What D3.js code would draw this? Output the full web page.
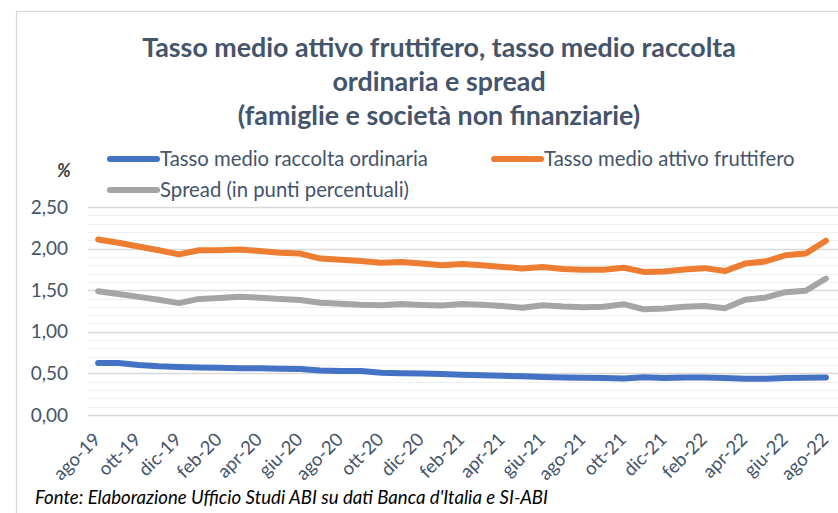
<!DOCTYPE html>
<html><head><meta charset="utf-8">
<script src="https://cdn.jsdelivr.net/npm/d3@7"></script>
<style>body{margin:0;background:#fff} svg{display:block}</style>
</head><body>
<svg id="chart" width="838" height="513"></svg>
<script>
// ---- data ----
const months = ["ago-19","set-19","ott-19","nov-19","dic-19","gen-20","feb-20","mar-20","apr-20","mag-20","giu-20","lug-20",
  "ago-20","set-20","ott-20","nov-20","dic-20","gen-21","feb-21","mar-21","apr-21","mag-21","giu-21","lug-21",
  "ago-21","set-21","ott-21","nov-21","dic-21","gen-22","feb-22","mar-22","apr-22","mag-22","giu-22","lug-22","ago-22"];
const tickLabels = ["ago-19","ott-19","dic-19","feb-20","apr-20","giu-20","ago-20","ott-20","dic-20","feb-21","apr-21",
  "giu-21","ago-21","ott-21","dic-21","feb-22","apr-22","giu-22","ago-22"];
const raccolta = [0.625,0.625,0.600,0.585,0.578,0.572,0.567,0.562,0.562,0.556,0.552,0.536,0.530,0.528,0.508,0.503,0.500,
  0.492,0.484,0.478,0.472,0.465,0.458,0.452,0.448,0.445,0.440,0.455,0.445,0.452,0.452,0.444,0.437,0.437,0.444,0.448,0.452];
const attivo = [2.11,2.07,2.025,1.98,1.93,1.98,1.98,1.99,1.97,1.95,1.94,1.88,1.865,1.85,1.83,1.84,1.82,1.80,1.815,1.80,
  1.78,1.76,1.78,1.755,1.745,1.745,1.77,1.72,1.725,1.75,1.765,1.73,1.82,1.845,1.92,1.94,2.095];
const spread = [1.488,1.455,1.42,1.385,1.345,1.395,1.405,1.42,1.41,1.395,1.383,1.35,1.336,1.324,1.32,1.333,1.323,1.315,
  1.333,1.325,1.31,1.288,1.32,1.304,1.296,1.30,1.332,1.27,1.28,1.30,1.31,1.283,1.386,1.41,1.476,1.494,1.64];
const yTicks = [0, 0.5, 1, 1.5, 2, 2.5];
const seriesNames = ["Tasso medio raccolta ordinaria", "Tasso medio attivo fruttifero", "Spread (in punti percentuali)"];
const titleLines = ["Tasso medio attivo fruttifero, tasso medio raccolta", "ordinaria e spread", "(famiglie e società non finanziarie)"];
const sourceText = "Fonte: Elaborazione Ufficio Studi ABI su dati Banca d'Italia e SI-ABI";

// ---- drawing ----
const svg = d3.select("#chart");
const C = {blue:"#4472c4", orange:"#ed7d31", gray:"#a5a5a5", text:"#44546a"};
const FONT = "Lato, 'Open Sans', sans-serif";
const it = d3.formatLocale({decimal:",", thousands:".", grouping:[3], currency:["€",""]});
const fmt = it.format(".2f");

// outer border
svg.append("rect").attr("x",16.5).attr("y",11.5).attr("width",900).attr("height",600)
  .attr("fill","none").attr("stroke","#d9d9d9").attr("stroke-width",1.2);

const x = d3.scalePoint().domain(months).range([88, 836]).padding(0.5);
const y = d3.scaleLinear().domain([0, 2.5]).range([415, 207]);

// minor grid
svg.append("g").selectAll("line").data(y.ticks(25)).join("line")
  .attr("x1",88).attr("x2",838).attr("y1",d=>Math.round(y(d))+0.5).attr("y2",d=>Math.round(y(d))+0.5)
  .attr("stroke","#efefef").attr("stroke-width",1.2);
// major grid
svg.append("g").selectAll("line").data(yTicks).join("line")
  .attr("x1",88).attr("x2",838).attr("y1",d=>Math.round(y(d))+0.5).attr("y2",d=>Math.round(y(d))+0.5)
  .attr("stroke","#d9d9d9").attr("stroke-width",1.3);

// y axis labels
svg.append("g").selectAll("text").data(yTicks).join("text")
  .attr("x",68).attr("y",d=>y(d)).attr("dy","0.35em").attr("text-anchor","end")
  .attr("font-family",FONT).attr("font-size",19).attr("fill",C.text).text(d=>fmt(d));

// x axis labels
svg.append("g").selectAll("text").data(tickLabels).join("text")
  .attr("transform",d=>`translate(${x(d)-1},436) rotate(-45)`)
  .attr("dy","0.35em").attr("text-anchor","end")
  .attr("font-family",FONT).attr("font-size",18.5).attr("fill",C.text).text(d=>d);

// lines
const line = d3.line().x((d,i)=>x(months[i])).y(d=>y(d));
[[raccolta,C.blue],[attivo,C.orange],[spread,C.gray]].forEach(([data,col])=>{
  svg.append("path").datum(data).attr("d",line).attr("fill","none").attr("stroke",col)
    .attr("stroke-width",6).attr("stroke-linecap","round").attr("stroke-linejoin","round");
});

// title
svg.append("g").selectAll("text").data(titleLines).join("text")
  .attr("x",439).attr("y",(d,i)=>57+i*34).attr("text-anchor","middle")
  .attr("font-family",FONT).attr("font-weight","bold").attr("font-size",26.8).attr("fill",C.text).text(d=>d);

// % label
svg.append("text").attr("x",57).attr("y",177).attr("font-family",FONT).attr("font-style","italic").attr("font-weight","bold")
  .attr("font-size",18).attr("fill","#404040").text("%");

// legend
const leg = [{n:seriesNames[0],c:C.blue,x:107,y:159},{n:seriesNames[1],c:C.orange,x:491,y:159},{n:seriesNames[2],c:C.gray,x:107,y:190}];
const lg = svg.append("g").selectAll("g").data(leg).join("g").attr("transform",d=>`translate(${d.x},${d.y})`);
lg.append("line").attr("x1",3).attr("x2",50).attr("stroke",d=>d.c).attr("stroke-width",6).attr("stroke-linecap","round");
lg.append("text").attr("x",53).attr("dy","0.35em").attr("font-family",FONT).attr("font-size",20.3).attr("fill",C.text).text(d=>d.n);

// source
svg.append("text").attr("x",35).attr("y",504).attr("font-family",FONT).attr("font-style","italic")
  .attr("font-size",18.6).attr("fill","#000").text(sourceText);
</script>
</body></html>
